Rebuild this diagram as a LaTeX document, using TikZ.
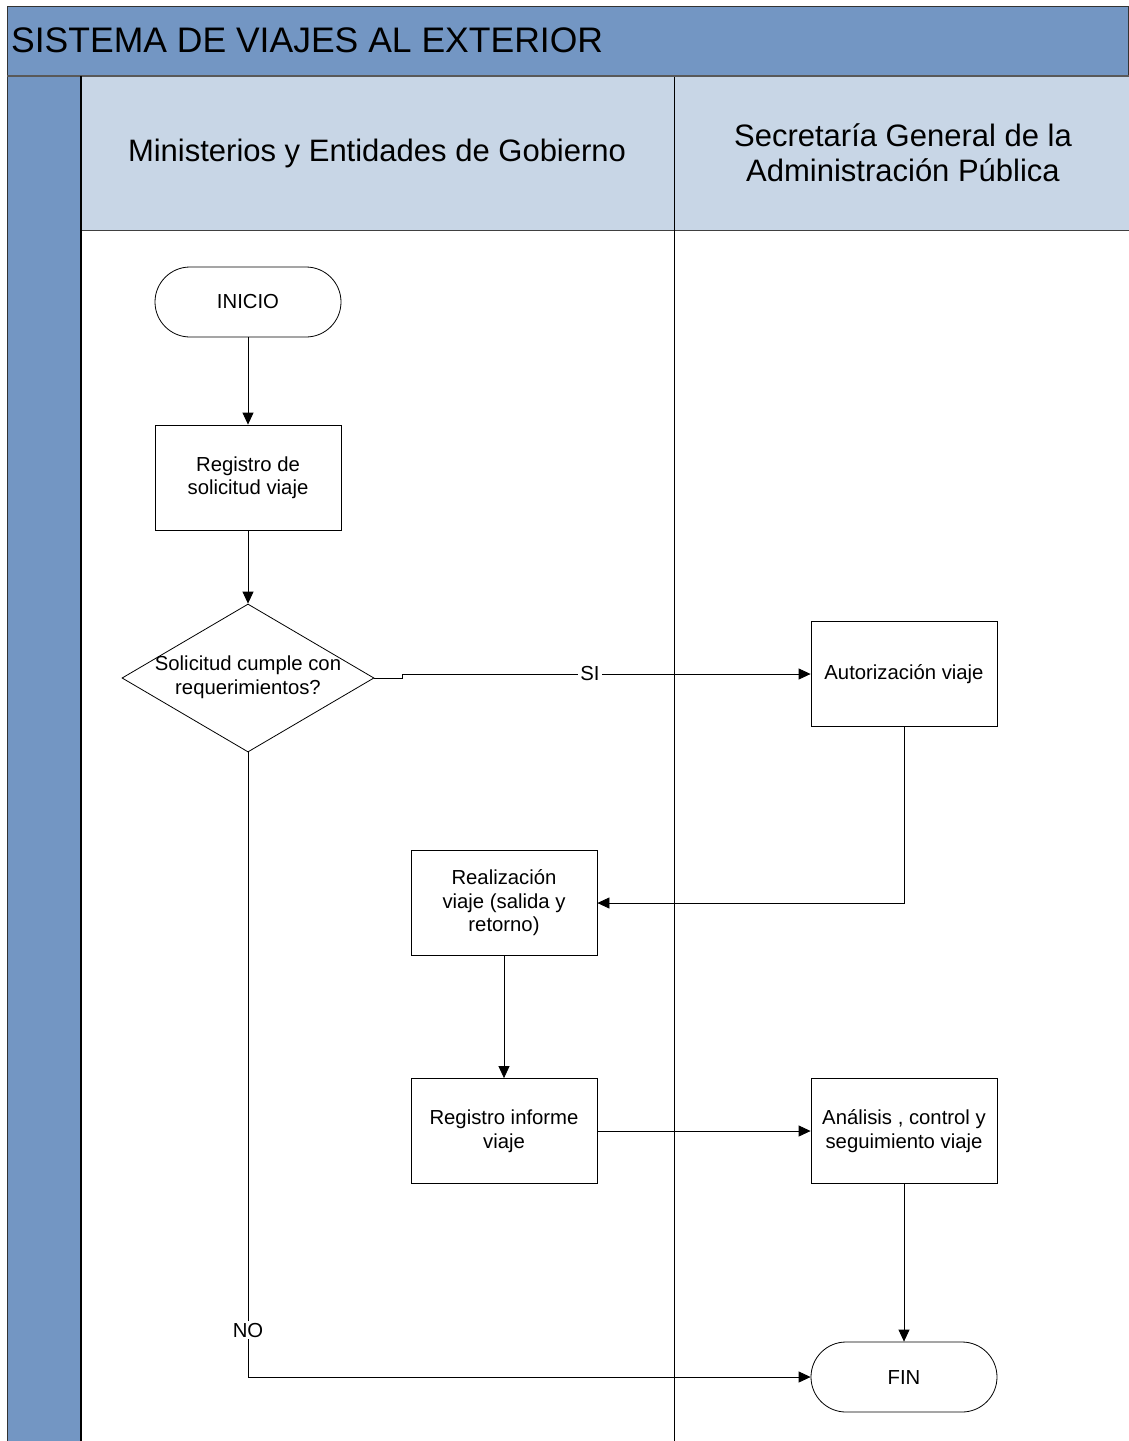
\documentclass[tikz,border=0pt]{standalone}
\usepackage{fontspec}
\setmainfont{Liberation Sans}
\usetikzlibrary{arrows.meta,shapes.geometric}
\definecolor{bandblue}{RGB}{115,150,195}
\definecolor{headblue}{RGB}{200,214,230}
\tikzset{
  procbox/.style={draw, line width=0.8pt, fill=white, minimum width=186pt, minimum height=105pt, inner sep=2pt, align=center, font=\fontsize{20.3}{23.5}\selectfont},
  termbox/.style={draw, line width=0.8pt, fill=white, minimum width=186pt, minimum height=70pt, rounded corners=35pt, align=center, font=\fontsize{20.3}{23.5}\selectfont},
  decbox/.style={diamond, draw, line width=0.8pt, fill=white, minimum width=252pt, minimum height=148pt, inner sep=0pt},
  nodetext/.style={align=center, font=\fontsize{20.3}{23.5}\selectfont},
  lbl/.style={fill=white, inner sep=2pt, font=\fontsize{20.3}{23.5}\selectfont},
  arr/.style={draw, line width=0.8pt, -{Triangle[length=12pt,width=11pt]}},
  lane/.style={draw=black, line width=1.2pt},
  headtext/.style={align=center, font=\fontsize{31}{35}\selectfont}
}
\begin{document}
\begin{tikzpicture}[x=1pt,y=-1pt]
\useasboundingbox (0,0) rectangle (1129,1441);
% title band
\fill[bandblue] (7,6) rectangle (1129,1441);
\draw[line width=1pt, black!80] (1128.5,1441) -- (1128.5,6) -- (7,6) -- (7,1441);
\draw[line width=2pt, black!65] (7,75.5) -- (1129,75.5);
% header row
\fill[headblue] (81,77) rectangle (1129,230);
\fill[white] (81,230) rectangle (1129,1441);
\draw[line width=1pt, black!75] (81,230) -- (1129,230);
\draw[lane] (81,76) -- (81,1441);
\draw[lane] (674.5,77) -- (674.5,1441);
\node[anchor=west, font=\fontsize{35.5}{40}\selectfont, inner sep=0pt] (title) at (11,40) {SISTEMA DE VIAJES AL EXTERIOR};
\node[headtext] (lane1) at (377,153) {Ministerios y Entidades de Gobierno};
\node[headtext] (lane2) at (903,153) {Secretaría General de la\\Administración Pública};
% nodes
\node[termbox] (ini) at (248,302) {INICIO};
\node[procbox] (reg) at (248,477.5) {Registro de\\solicitud viaje};
\node[decbox] (dec) at (248,678) {};
\node[nodetext] (dect) at (248,677) {Solicitud cumple con\\requerimientos?};
\node[procbox] (aut) at (904,674) {Autorización viaje};
\node[procbox] (real) at (504,903) {Realización\\viaje (salida y\\retorno)};
\node[procbox] (inf) at (504,1131) {Registro informe\\viaje};
\node[procbox] (ana) at (904,1131) {Análisis , control y\\seguimiento viaje};
\node[termbox] (fin) at (904,1377) {FIN};
% connectors
\draw[arr] (ini) -- (reg);
\draw[arr] (reg) -- (dec);
\coordinate (jog) at (402,678);
\draw[arr] (dec.east) -- (jog) |- (aut.west);
\node[lbl] (si) at (590,674) {SI};
\draw[arr] (aut.south) |- (real.east);
\draw[arr] (real) -- (inf);
\draw[arr] (inf) -- (ana);
\draw[arr] (ana) -- (fin);
\draw[arr] (dec.south) |- (fin.west);
\node[lbl] (no) at (248,1330) {NO};
\end{tikzpicture}
\end{document}
